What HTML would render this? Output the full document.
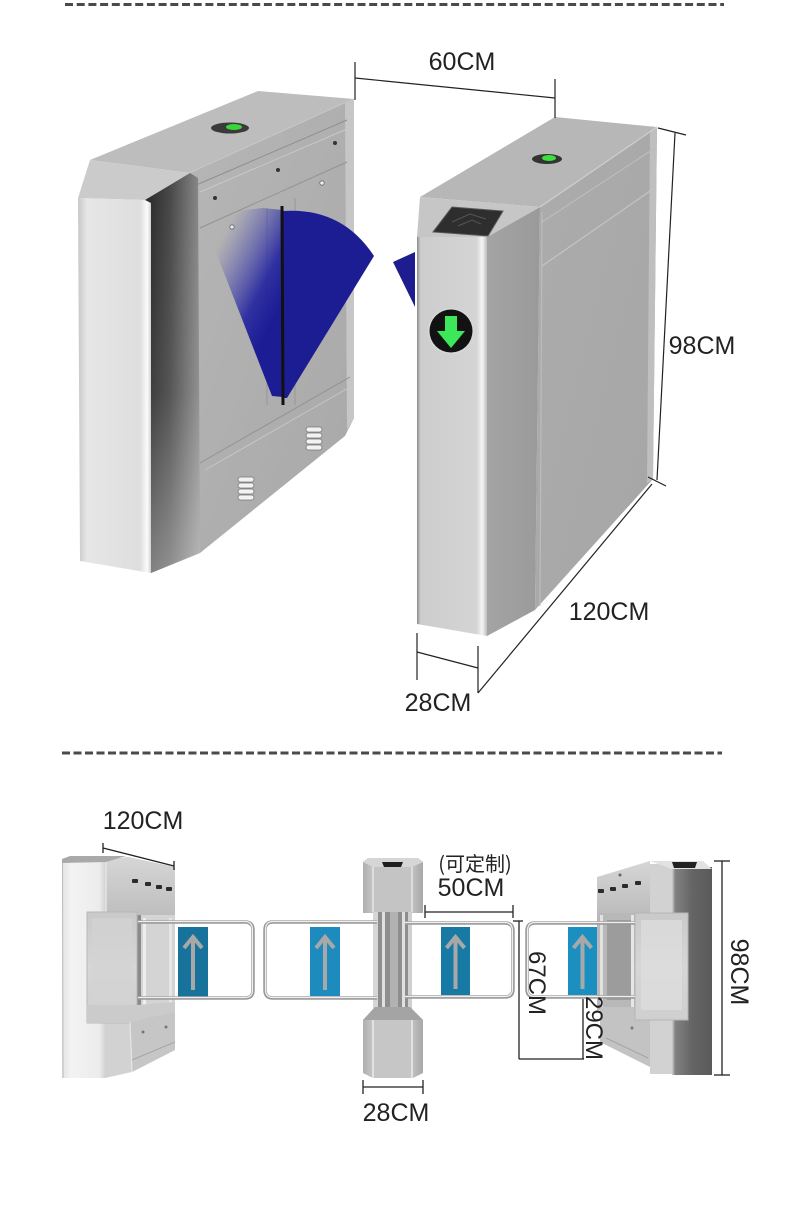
<!DOCTYPE html>
<html><head><meta charset="utf-8">
<style>
html,body{margin:0;padding:0;background:#fff;width:790px;height:1230px;overflow:hidden;}
svg{display:block;}
text{font-family:"Liberation Sans","Noto Sans CJK SC",sans-serif;fill:#222;}
</style></head><body>
<svg width="790" height="1230" viewBox="0 0 790 1230" xmlns="http://www.w3.org/2000/svg">
<defs>
<linearGradient id="frontL" x1="0" y1="0" x2="1" y2="0">
 <stop offset="0" stop-color="#c8c8c8"/><stop offset="0.12" stop-color="#e6e6e6"/><stop offset="0.85" stop-color="#dedede"/><stop offset="0.95" stop-color="#fbfbfb"/><stop offset="1" stop-color="#d0d0d0"/>
</linearGradient>
<linearGradient id="darkL" x1="0" y1="0" x2="1" y2="0">
 <stop offset="0" stop-color="#262626"/><stop offset="0.45" stop-color="#474747"/><stop offset="1" stop-color="#8a8a8a"/>
</linearGradient>
<linearGradient id="darkFade" x1="0" y1="0" x2="0" y2="1">
 <stop offset="0" stop-color="#fff" stop-opacity="0"/><stop offset="0.55" stop-color="#fff" stop-opacity="0.08"/><stop offset="1" stop-color="#fff" stop-opacity="0.4"/>
</linearGradient>
<linearGradient id="sideL" x1="0" y1="0" x2="1" y2="1">
 <stop offset="0" stop-color="#b6b6b6"/><stop offset="1" stop-color="#a8a8a8"/>
</linearGradient>
<linearGradient id="blueFade" gradientUnits="userSpaceOnUse" x1="283" y1="300" x2="210" y2="262">
 <stop offset="0" stop-color="#1c1c94" stop-opacity="1"/><stop offset="0.3" stop-color="#2222a0" stop-opacity="0.9"/><stop offset="1" stop-color="#4a4ab8" stop-opacity="0"/>
</linearGradient>
<linearGradient id="frontR" x1="0" y1="0" x2="1" y2="0">
 <stop offset="0" stop-color="#8a8a8a"/><stop offset="0.05" stop-color="#cdcdcd"/><stop offset="0.85" stop-color="#d4d4d4"/><stop offset="0.93" stop-color="#f6f6f6"/><stop offset="1" stop-color="#bdbdbd"/>
</linearGradient>
<linearGradient id="stripR" x1="0" y1="0" x2="1" y2="0">
 <stop offset="0" stop-color="#a4a4a4"/><stop offset="1" stop-color="#9a9a9a"/>
</linearGradient>
<linearGradient id="sideR" x1="0" y1="0" x2="1" y2="1">
 <stop offset="0" stop-color="#acacac"/><stop offset="1" stop-color="#a6a6a6"/>
</linearGradient>
<linearGradient id="endB" x1="0" y1="0" x2="1" y2="0">
 <stop offset="0" stop-color="#e2e2e2"/><stop offset="0.2" stop-color="#f3f3f3"/><stop offset="0.85" stop-color="#ececec"/><stop offset="1" stop-color="#cfcfcf"/>
</linearGradient>
<linearGradient id="boxB" x1="0" y1="0" x2="0" y2="1">
 <stop offset="0" stop-color="#d6d6d6"/><stop offset="1" stop-color="#bdbdbd"/>
</linearGradient>
<linearGradient id="glassB" x1="0" y1="0" x2="0" y2="1">
 <stop offset="0" stop-color="#c9c9c9"/><stop offset="0.5" stop-color="#d6d6d6"/><stop offset="1" stop-color="#cfcfcf"/>
</linearGradient>
<linearGradient id="endRB" x1="0" y1="0" x2="1" y2="0">
 <stop offset="0" stop-color="#d0d0d0"/><stop offset="0.08" stop-color="#828282"/><stop offset="0.5" stop-color="#656565"/><stop offset="1" stop-color="#5a5a5a"/>
</linearGradient>
<linearGradient id="colB" x1="0" y1="0" x2="1" y2="0">
 <stop offset="0" stop-color="#b0b0b0"/><stop offset="0.2" stop-color="#c9c9c9"/><stop offset="0.8" stop-color="#c4c4c4"/><stop offset="1" stop-color="#a8a8a8"/>
</linearGradient>
</defs>

<!-- dashed separators -->
<line x1="65" y1="4.5" x2="724" y2="4.5" stroke="#4a4a4a" stroke-width="3" stroke-dasharray="8 3.7"/>
<line x1="62" y1="753" x2="722" y2="753" stroke="#4a4a4a" stroke-width="3" stroke-dasharray="8 3.5"/>

<!-- ================= TOP LEFT CABINET ================= -->
<polygon points="90,160 258,91 354,99 190,173" fill="#bdbdbd"/>
<line x1="190" y1="173" x2="354" y2="99" stroke="#d2d2d2" stroke-width="1.2"/>
<ellipse cx="230" cy="128" rx="19" ry="5.5" fill="#3a3a3a"/>
<ellipse cx="234" cy="127" rx="8" ry="3" fill="#3bd43b"/>
<!-- long side -->
<polygon points="190,173 354,99 354,418 345,436 200,553" fill="url(#sideL)"/>
<polygon points="345,102 354,99 354,418 347,430" fill="#c6c6c6"/>
<line x1="194" y1="186" x2="347" y2="120" stroke="#8e8e8e" stroke-width="1"/>
<line x1="200" y1="192" x2="347" y2="129" stroke="#c8c8c8" stroke-width="1"/>
<line x1="200" y1="228" x2="347" y2="162" stroke="#939393" stroke-width="1"/>
<line x1="267" y1="208" x2="267" y2="405" stroke="#979797" stroke-width="1"/>
<line x1="295" y1="198" x2="295" y2="405" stroke="#979797" stroke-width="1"/>
<line x1="200" y1="463" x2="350" y2="377" stroke="#929292" stroke-width="1"/>
<line x1="205" y1="470" x2="350" y2="387" stroke="#c6c6c6" stroke-width="1"/>
<circle cx="215" cy="198" r="2" fill="#333"/>
<circle cx="278" cy="170" r="2" fill="#333"/>
<circle cx="335" cy="143" r="2" fill="#333"/>
<circle cx="232" cy="227" r="2.2" fill="#eee" stroke="#666" stroke-width="0.8"/>
<circle cx="322" cy="183" r="2.2" fill="#eee" stroke="#666" stroke-width="0.8"/>
<!-- vents -->
<g stroke="#777" stroke-width="0.8" fill="#f2f2f2">
 <rect x="306" y="427" width="16" height="5" rx="2.5"/><rect x="306" y="433" width="16" height="5" rx="2.5"/><rect x="306" y="439" width="16" height="5" rx="2.5"/><rect x="306" y="445" width="16" height="5" rx="2.5"/>
 <rect x="238" y="477" width="16" height="5" rx="2.5"/><rect x="238" y="483" width="16" height="5" rx="2.5"/><rect x="238" y="489" width="16" height="5" rx="2.5"/><rect x="238" y="495" width="16" height="5" rx="2.5"/>
</g>
<!-- blue flap -->
<polygon points="283,210 262,208 238,211 212,218 205,224 272,396 283,397" fill="url(#blueFade)"/>
<path d="M283,211 Q342,207 374,256 L287,398 L283,398 Z" fill="#1d1d93"/>
<line x1="282" y1="206" x2="283" y2="405" stroke="#111" stroke-width="3"/>
<!-- end cap -->
<polygon points="90,160 190,173 145,200 78,198" fill="#cbcbcb"/>
<polygon points="145,200 190,173 198,178 200,553 151,573" fill="url(#darkL)"/>
<polygon points="145,200 190,173 198,178 200,553 151,573" fill="url(#darkFade)"/>
<polygon points="78,198 145,200 151,203 151,573 80,561" fill="url(#frontL)"/>

<!-- ================= TOP RIGHT CABINET ================= -->
<polygon points="420,197 555,117 657,127 540,207" fill="#b7b7b7"/>
<ellipse cx="547" cy="159" rx="15" ry="5" fill="#333"/>
<ellipse cx="549" cy="158" rx="7" ry="3" fill="#3ce03c"/>
<polygon points="540,207 657,127 653,479 535,610" fill="url(#sideR)"/>
<polygon points="650,130 657,127 653,479 647,483" fill="#bfbfbf"/>
<line x1="540" y1="207" x2="657" y2="127" stroke="#cfcfcf" stroke-width="1.2"/>
<line x1="542" y1="222" x2="655" y2="148" stroke="#bcbcbc" stroke-width="1.2"/>
<line x1="542" y1="266" x2="653" y2="189" stroke="#c4c4c4" stroke-width="1.2"/>
<line x1="542" y1="212" x2="540" y2="606" stroke="#bcbcbc" stroke-width="1.2"/>
<polygon points="487,237 540,207 535,610 487,636" fill="url(#stripR)"/>
<polygon points="420,197 540,207 487,237 417,237" fill="#c6c6c6"/>
<polygon points="452,207 503,211 488,236 433,232" fill="#2e2e2e" stroke="#5a5a5a" stroke-width="1"/>
<path d="M452,222 L470,214 L486,219 M458,226 L472,220 L481,224" stroke="#555" stroke-width="1" fill="none"/>
<polygon points="417,237 487,237 487,636 417,624" fill="url(#frontR)"/>
<polygon points="393,262 415,252 415,307" fill="#1d1d8f"/>
<circle cx="451" cy="331" r="23" fill="#d8d8d8"/>
<circle cx="451" cy="331" r="21.5" fill="#121212"/>
<rect x="445" y="316" width="12" height="17" fill="#3ce85a"/>
<polygon points="437,331 465,331 451,348" fill="#3ce85a"/>

<!-- top dimensions -->
<g stroke="#222" stroke-width="1.2" fill="none">
 <line x1="355" y1="62" x2="355" y2="100"/>
 <line x1="555" y1="79" x2="555" y2="118"/>
 <line x1="355" y1="78" x2="555" y2="98"/>
 <line x1="658" y1="128" x2="686" y2="135"/>
 <line x1="675" y1="133" x2="657" y2="480"/>
 <line x1="648" y1="477" x2="666" y2="486"/>
 <line x1="652" y1="484" x2="478" y2="693"/>
 <line x1="417" y1="633" x2="417" y2="680"/>
 <line x1="478" y1="646" x2="478" y2="693"/>
 <line x1="417" y1="652" x2="478" y2="668"/>
</g>
<text x="462" y="70" font-size="25" text-anchor="middle">60CM</text>
<text x="702" y="354" font-size="25" text-anchor="middle">98CM</text>
<text x="609" y="620" font-size="25" text-anchor="middle">120CM</text>
<text x="438" y="711" font-size="25" text-anchor="middle">28CM</text>

<!-- ================= BOTTOM SECTION ================= -->
<!-- left cabinet -->
<polygon points="105,860 128,857 175,867 175,1050 132,1072 105,1078" fill="#d2d2d2"/>
<rect x="62" y="859" width="44" height="219" fill="url(#endB)"/>
<line x1="62.5" y1="860" x2="63" y2="1078" stroke="#bdbdbd" stroke-width="1"/>
<polygon points="62,859 70,856 126,856 106,862 62,863" fill="#a9a9a9"/>
<polygon points="106,862 126,857 170,866 175,872 175,918 106,918" fill="url(#boxB)"/>
<line x1="106" y1="862" x2="106" y2="918" stroke="#e4e4e4" stroke-width="1.5"/>
<g fill="#2b2b2b">
 <rect x="132" y="879" width="6" height="4" rx="1"/><rect x="145" y="882" width="6" height="4" rx="1"/><rect x="156" y="885" width="6" height="4" rx="1"/><rect x="166" y="887" width="6" height="4" rx="1"/>
</g>
<rect x="137" y="915" width="38" height="95" fill="#d4d4d4"/>
<rect x="137" y="915" width="4" height="95" fill="#8a8a8a"/>
<rect x="143" y="918" width="3" height="88" fill="#eeeeee"/>
<rect x="169" y="918" width="3" height="88" fill="#e6e6e6"/>
<rect x="87" y="912" width="50" height="111" fill="url(#glassB)" stroke="#b8b8b8" stroke-width="1"/>
<rect x="92" y="918" width="40" height="85" fill="#d3d3d3" opacity="0.7"/>
<polygon points="87,1005 137,1005 175,1002 175,1012 137,1023 87,1023" fill="#cbcbcb"/>
<polygon points="130,1022 175,1012 175,1050 132,1072" fill="#c6c6c6"/>
<line x1="132" y1="1060" x2="175" y2="1042" stroke="#a6a6a6" stroke-width="1"/>
<line x1="130" y1="1022" x2="132" y2="1072" stroke="#e6e6e6" stroke-width="1.2"/>
<circle cx="143" cy="1032" r="1.5" fill="#777"/><circle cx="166" cy="1027" r="1.5" fill="#777"/>

<!-- right cabinet -->
<rect x="672" y="867" width="40" height="208" fill="url(#endRB)"/>
<rect x="650" y="864" width="22" height="210" fill="#d2d2d2"/>
<polygon points="650,861 703,861 712,869 672,869" fill="#e2e2e2"/>
<polygon points="672,862 697,862 695,868 674,868" fill="#222"/>
<polygon points="597,877 650,861 650,913 597,913" fill="url(#boxB)"/>
<g fill="#2b2b2b">
 <rect x="598" y="889" width="6" height="4" rx="1"/><rect x="610" y="887" width="6" height="4" rx="1"/><rect x="622" y="884" width="6" height="4" rx="1"/><rect x="635" y="881" width="6" height="4" rx="1"/>
</g>
<circle cx="620" cy="875" r="1.5" fill="#666"/>
<rect x="597" y="913" width="40" height="97" fill="#b8b8b8"/>
<rect x="607" y="920" width="24" height="80" fill="#9c9c9c"/>
<rect x="600" y="915" width="3" height="92" fill="#e2e2e2"/>
<rect x="631" y="915" width="3" height="92" fill="#e6e6e6"/>
<polygon points="600,1007 650,1007 650,1067 600,1042" fill="#c3c3c3"/>
<line x1="606" y1="1038" x2="648" y2="1058" stroke="#a4a4a4" stroke-width="1"/>
<circle cx="632" cy="1028" r="1.5" fill="#777"/>
<rect x="635" y="913" width="53" height="107" fill="url(#glassB)" stroke="#b5b5b5" stroke-width="1"/>
<rect x="641" y="920" width="41" height="90" fill="#dedede" opacity="0.7"/>

<!-- center column -->
<polygon points="363,862 368,858 418,858 423,862 423,913 363,913" fill="url(#colB)"/>
<polygon points="363,862 368,858 418,858 423,862 412,867 373,867" fill="#d6d6d6"/>
<polygon points="382,862 403,862 401,867 384,867" fill="#1e1e1e"/>
<rect x="373" y="867" width="39" height="45" fill="#c4c4c4"/>
<line x1="373" y1="867" x2="373" y2="912" stroke="#e6e6e6" stroke-width="1.5"/>
<line x1="412" y1="867" x2="412" y2="912" stroke="#e6e6e6" stroke-width="1.5"/>
<rect x="373" y="912" width="39" height="98" fill="#8e8e8e"/>
<rect x="373" y="912" width="5" height="98" fill="#d6d6d6"/>
<rect x="382" y="912" width="3" height="98" fill="#e0e0e0"/>
<rect x="390" y="912" width="8" height="98" fill="#b2b2b2"/>
<rect x="402" y="912" width="3" height="98" fill="#e0e0e0"/>
<rect x="408" y="912" width="4" height="98" fill="#d0d0d0"/>
<polygon points="363,1020 375,1007 410,1007 423,1020 423,1073 413,1078 373,1078 363,1073" fill="url(#colB)"/>
<polygon points="363,1020 375,1007 410,1007 423,1020" fill="#a4a4a4"/>
<rect x="373" y="1020" width="39" height="58" fill="#c6c6c6"/>
<line x1="373" y1="1020" x2="373" y2="1078" stroke="#ececec" stroke-width="1.5"/>
<line x1="412" y1="1020" x2="412" y2="1078" stroke="#ececec" stroke-width="1.5"/>

<!-- blue panels -->
<rect x="178" y="927" width="30" height="70" fill="#17739b"/>
<rect x="310" y="927" width="30" height="69" fill="#1d8bbd"/>
<rect x="441" y="927" width="29" height="68" fill="#177aa4"/>
<rect x="568" y="927" width="29" height="68" fill="#1a8fc0"/>
<g stroke="#a8a8a8" stroke-width="4" fill="none" stroke-linecap="butt">
 <line x1="193" y1="990" x2="193" y2="936"/><polyline points="184,948 193,937 202,948"/>
 <line x1="325" y1="990" x2="325" y2="936"/><polyline points="316,948 325,937 334,948"/>
 <line x1="455.5" y1="989" x2="455.5" y2="936"/><polyline points="446.5,948 455.5,937 464.5,948"/>
 <line x1="582.5" y1="989" x2="582.5" y2="936"/><polyline points="573.5,948 582.5,937 591.5,948"/>
</g>

<!-- gate arms -->
<g fill="none" stroke="#9a9a9a" stroke-width="3.5">
 <path d="M138,922 H245 Q253,922 253,930 V990 Q253,998 245,998 H138"/>
 <path d="M377,922 H273 Q265,922 265,930 V990 Q265,998 273,998 H377"/>
 <path d="M405,923 H505 Q513,923 513,931 V989 Q513,997 505,997 H405"/>
 <path d="M635,923 H535 Q527,923 527,931 V989 Q527,997 535,997 H635"/>
</g>
<g fill="none" stroke="#efefef" stroke-width="1.2">
 <path d="M138,921.5 H245 Q252.5,921.5 252.5,930 V990 Q252.5,997.5 245,997.5 H138"/>
 <path d="M377,921.5 H273 Q265.5,921.5 265.5,930 V990 Q265.5,997.5 273,997.5 H377"/>
 <path d="M405,922.5 H505 Q512.5,922.5 512.5,931 V989 Q512.5,996.5 505,996.5 H405"/>
 <path d="M635,922.5 H535 Q527.5,922.5 527.5,931 V989 Q527.5,996.5 535,996.5 H635"/>
</g>

<!-- bottom dimensions -->
<g stroke="#222" stroke-width="1.3" fill="none">
 <line x1="103" y1="843" x2="103" y2="853"/>
 <line x1="174" y1="861" x2="174" y2="870"/>
 <line x1="103" y1="848" x2="174" y2="866"/>
 <line x1="425" y1="905" x2="425" y2="918"/>
 <line x1="513" y1="905" x2="513" y2="918"/>
 <line x1="425" y1="912" x2="513" y2="912"/>
 <line x1="513" y1="921" x2="523" y2="921"/>
 <line x1="519" y1="921" x2="519" y2="1059"/>
 <line x1="519" y1="1059" x2="584" y2="1059"/>
 <line x1="583" y1="999" x2="583" y2="1059"/>
 <line x1="714" y1="861" x2="730" y2="861"/>
 <line x1="722" y1="861" x2="722" y2="1075"/>
 <line x1="714" y1="1075" x2="730" y2="1075"/>
 <line x1="363" y1="1080" x2="363" y2="1094"/>
 <line x1="423" y1="1080" x2="423" y2="1094"/>
 <line x1="363" y1="1087" x2="423" y2="1087"/>
</g>
<text x="143" y="829" font-size="25" text-anchor="middle">120CM</text>
<text x="475" y="871" font-size="20" text-anchor="middle" style="font-family:'Noto Sans CJK SC','WenQuanYi Zen Hei',sans-serif">(可定制)</text>
<text x="471" y="896" font-size="25" text-anchor="middle">50CM</text>
<text x="396" y="1121" font-size="25" text-anchor="middle">28CM</text>
<text font-size="24" text-anchor="middle" transform="translate(529,983) rotate(90)">67CM</text>
<text font-size="24" text-anchor="middle" transform="translate(586,1028) rotate(90)">29CM</text>
<text font-size="25" text-anchor="middle" transform="translate(731,972) rotate(90)">98CM</text>
</svg>
</body></html>
